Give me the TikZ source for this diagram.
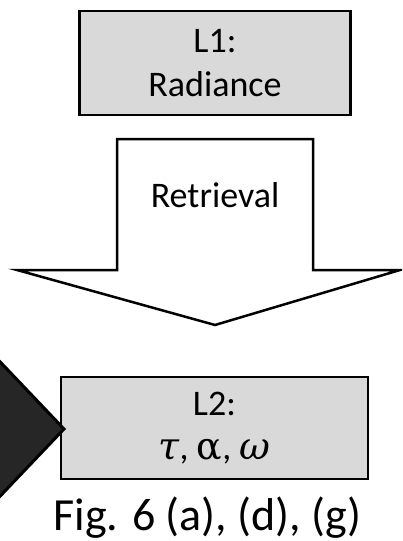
\documentclass[tikz,border=0pt]{standalone}
\usepackage{fontspec}
\setmainfont{Carlito}
\newfontfamily\greekfont[Scale=1.05]{DejaVu Serif}
\usetikzlibrary{positioning}
\definecolor{boxgray}{HTML}{D9D9D9}
\definecolor{headgray}{HTML}{262626}

\begin{document}
\begin{tikzpicture}
  [
    x=1pt, y=-1pt,
    Level/.style={rectangle, draw=black, fill=boxgray, line width=2.5pt, inner sep=0pt, align=center, font=\fontsize{36}{44}\selectfont},
    Block/.style={draw=black, fill=white, line width=2.5pt, line join=miter},
    Head/.style={draw=black, fill=headgray, line width=3pt, line join=miter},
    Label/.style={font=\fontsize{36}{44}\selectfont},
    Caption/.style={font=\fontsize{46}{55}\selectfont}
  ]
  \useasboundingbox (0,0) rectangle (402,541);
  \clip (0,0) rectangle (402,541);

  % Nodes
  \node[Level, minimum width=271pt, minimum height=104pt] (l1) at (215, 63) {L1:\\Radiance};
  \node[Level, minimum width=307pt, minimum height=102pt, line width=2pt] (l2) at (214.5, 428) {L2:\\{\greekfont\itshape τ}, {\greekfont α}, {\greekfont\itshape ω}};
  \node[Caption, anchor=base] (fig) at (207.5, 530) {Fig. 6 (a), (d), (g)};

  % Arrows
  \path [Block] (117,139) -- (313,139) -- (313,270) -- (400,270) -- (215,325) -- (17,270) -- (117,270) -- cycle;
  \node[Label, anchor=base] (retrieval) at (215, 207) {Retrieval};
  \path [Head] (-34,326) -- (64,429) -- (-34,532) -- cycle;

\end{tikzpicture}
\end{document}
